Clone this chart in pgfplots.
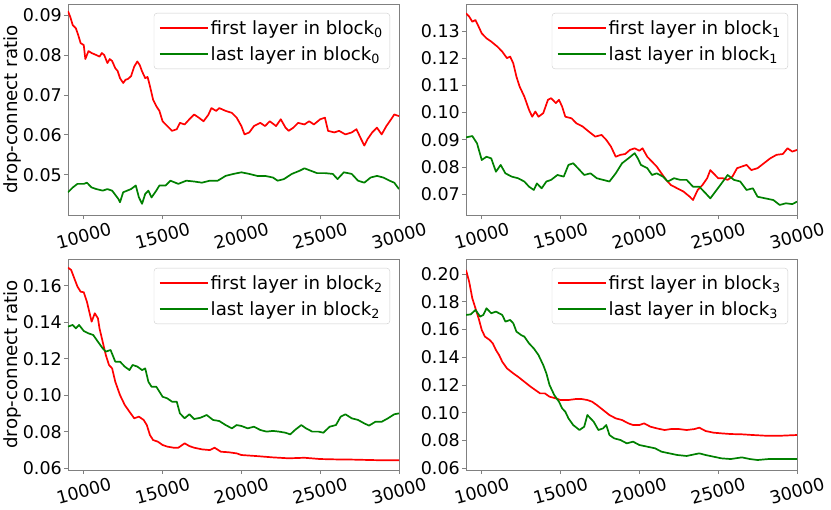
\documentclass[border=0pt]{standalone}
\usepackage{fontspec}
\setmainfont{DejaVu Sans}
\usepackage{pgfplots}
\pgfplotsset{compat=1.18}
\definecolor{mpred}{HTML}{FF0000}
\definecolor{mpgreen}{HTML}{008000}
\newcommand{\fst}{\fontsize{17.5}{21}\selectfont}
\newcommand{\fsl}{\fontsize{18.2}{22}\selectfont}
\pgfplotsset{
 legend image code/.code={\draw[#1] (0pt,0pt) -- (37pt,0pt); \path (0pt,0pt) -- (48pt,0pt);},
 cr/.style={color=mpred, line width=1.7pt, line join=round},
 cg/.style={color=mpgreen, line width=1.7pt, line join=round},
 panel/.style={
  scale only axis, width=331pt, height=211pt,
  xmin=9000, xmax=30000,
  xtick={10000,15000,20000,25000,30000},
  scaled ticks=false,
  axis line style={black!50, line width=0.8pt},
  tick style={black!50, line width=0.8pt},
  tick align=outside, major tick length=4pt,
  xtick pos=left, ytick pos=left,
  /pgf/number format/assume math mode=true,
  xticklabel style={/pgf/number format/1000 sep={}, rotate=15, anchor=center},
  xticklabel shift=17pt,
  yticklabel style={/pgf/number format/fixed, /pgf/number format/fixed zerofill, /pgf/number format/precision=2, inner sep=2pt},
  tick label style={font=\fst},
  label style={font=\fsl},
  ylabel style={at={(axis description cs:-0.168,0.5)}, anchor=center},
  legend style={at={(1,1)}, anchor=north east, xshift=-9pt, yshift=-9pt, draw=black!20, rounded corners=3pt, font=\fsl, inner xsep=5pt, inner ysep=5pt, row sep=7pt, nodes={inner sep=2pt}},
  legend cell align=left,
 },
}
\begin{document}
\begin{tikzpicture}
\path[use as bounding box] (0,0) rectangle (831pt,-510pt);
% ---------------- top left
\begin{axis}[panel, at={(68pt,-4pt)}, anchor=north west,
  ymin=0.0399, ymax=0.0928, ytick={0.05,0.06,0.07,0.08,0.09},
  ylabel={drop-connect ratio}]
\addplot[cr] coordinates {
(9000,0.0910)(9150,0.0895)(9300,0.0875)(9500,0.0867)(9650,0.0850)(9800,0.0830)(10000,0.0825)(10100,0.0790)(10300,0.0810)(10500,0.0805)(10800,0.0800)(11000,0.0796)(11150,0.0805)(11300,0.0800)(11500,0.0780)(11650,0.0790)(11800,0.0785)(12000,0.0767)(12150,0.0760)(12300,0.0742)(12500,0.0730)(12650,0.0738)(12800,0.0740)(13000,0.0747)(13200,0.0771)(13400,0.0784)(13550,0.0775)(13700,0.0759)(13900,0.0742)(14050,0.0745)(14200,0.0722)(14400,0.0688)(14600,0.0672)(14800,0.0660)(15000,0.0634)(15300,0.0622)(15600,0.0610)(15900,0.0614)(16100,0.0630)(16400,0.0626)(16700,0.0639)(17000,0.0651)(17300,0.0643)(17600,0.0634)(17900,0.0650)(18100,0.0667)(18400,0.0660)(18600,0.0667)(19000,0.0660)(19400,0.0655)(19700,0.0643)(20000,0.0622)(20200,0.0601)(20500,0.0606)(20800,0.0622)(21200,0.0630)(21500,0.0622)(21800,0.0634)(22200,0.0622)(22500,0.0639)(22800,0.0618)(23000,0.0610)(23300,0.0618)(23600,0.0630)(24000,0.0626)(24300,0.0634)(24600,0.0626)(25000,0.0639)(25300,0.0643)(25500,0.0610)(25900,0.0606)(26200,0.0610)(26600,0.0601)(27000,0.0606)(27300,0.0614)(27600,0.0589)(27800,0.0573)(28000,0.0589)(28300,0.0606)(28600,0.0618)(28900,0.0601)(29200,0.0622)(29500,0.0639)(29700,0.0651)(30000,0.0647)};
\addlegendentry{first layer in block\textsubscript{0}}
\addplot[cg] coordinates {
(9000,0.0456)(9300,0.0468)(9600,0.0477)(10000,0.0477)(10200,0.0480)(10500,0.0468)(10800,0.0464)(11200,0.0460)(11500,0.0464)(11800,0.0460)(12200,0.0439)(12300,0.0431)(12500,0.0456)(13000,0.0464)(13300,0.0473)(13500,0.0443)(13700,0.0427)(13900,0.0452)(14100,0.0460)(14300,0.0443)(14600,0.0460)(14800,0.0473)(15200,0.0473)(15500,0.0485)(16000,0.0477)(16500,0.0485)(17000,0.0483)(17500,0.0480)(18000,0.0485)(18500,0.0485)(19000,0.0497)(19500,0.0502)(20000,0.0506)(20500,0.0502)(21000,0.0497)(21500,0.0497)(22000,0.0493)(22300,0.0485)(22700,0.0489)(23200,0.0502)(23700,0.0510)(24000,0.0516)(24400,0.0510)(24800,0.0504)(25300,0.0504)(25800,0.0502)(26100,0.0489)(26500,0.0506)(27000,0.0502)(27400,0.0485)(27800,0.0480)(28200,0.0493)(28600,0.0497)(29000,0.0493)(29400,0.0485)(29700,0.0480)(30000,0.0464)};
\addlegendentry{last layer in block\textsubscript{0}}
\end{axis}
% ---------------- top right
\begin{axis}[panel, at={(466pt,-4pt)}, anchor=north west,
  ymin=0.0624, ymax=0.1399, ytick={0.07,0.08,0.09,0.10,0.11,0.12,0.13}]
\addplot[cr] coordinates {
(9000,0.1365)(9200,0.1353)(9400,0.1334)(9600,0.1340)(9800,0.1316)(10000,0.1291)(10300,0.1273)(10600,0.1261)(11000,0.1242)(11300,0.1224)(11600,0.1200)(11800,0.1206)(12000,0.1181)(12200,0.1132)(12400,0.1096)(12700,0.1059)(13000,0.1010)(13200,0.0985)(13400,0.1004)(13600,0.0985)(13900,0.0998)(14200,0.1047)(14400,0.1053)(14700,0.1035)(14900,0.1047)(15100,0.1022)(15300,0.0985)(15700,0.0979)(16000,0.0961)(16400,0.0949)(16800,0.0930)(17200,0.0912)(17600,0.0918)(17900,0.0900)(18200,0.0875)(18500,0.0838)(18800,0.0845)(19100,0.0848)(19400,0.0863)(19700,0.0869)(20000,0.0860)(20200,0.0869)(20500,0.0838)(20800,0.0820)(21100,0.0802)(21400,0.0777)(21700,0.0753)(22000,0.0734)(22400,0.0722)(22800,0.0710)(23200,0.0691)(23400,0.0679)(23700,0.0716)(24000,0.0734)(24300,0.0759)(24500,0.0789)(24800,0.0771)(25000,0.0759)(25300,0.0759)(25600,0.0753)(25900,0.0765)(26200,0.0796)(26500,0.0802)(26800,0.0808)(27100,0.0789)(27500,0.0796)(27900,0.0814)(28300,0.0832)(28700,0.0845)(29100,0.0848)(29400,0.0869)(29700,0.0857)(30000,0.0863)};
\addlegendentry{first layer in block\textsubscript{1}}
\addplot[cg] coordinates {
(9000,0.0909)(9400,0.0914)(9700,0.0887)(10000,0.0826)(10300,0.0838)(10600,0.0832)(10900,0.0783)(11200,0.0808)(11500,0.0777)(11900,0.0765)(12300,0.0759)(12700,0.0747)(13000,0.0728)(13300,0.0716)(13500,0.0740)(13800,0.0722)(14100,0.0747)(14400,0.0753)(14800,0.0771)(15200,0.0765)(15500,0.0808)(15800,0.0814)(16100,0.0796)(16500,0.0771)(16900,0.0777)(17300,0.0759)(17700,0.0753)(18100,0.0747)(18500,0.0777)(18900,0.0814)(19300,0.0832)(19700,0.0851)(19900,0.0832)(20100,0.0808)(20500,0.0796)(20800,0.0771)(21100,0.0777)(21500,0.0765)(21800,0.0747)(22200,0.0759)(22600,0.0753)(23000,0.0753)(23400,0.0728)(23800,0.0728)(24200,0.0704)(24500,0.0685)(24900,0.0716)(25300,0.0747)(25600,0.0771)(26000,0.0753)(26400,0.0747)(26800,0.0716)(27200,0.0722)(27500,0.0691)(28000,0.0685)(28500,0.0679)(28900,0.0661)(29300,0.0667)(29700,0.0664)(30000,0.0673)};
\addlegendentry{last layer in block\textsubscript{1}}
\end{axis}
% ---------------- bottom left
\begin{axis}[panel, at={(68pt,-259pt)}, anchor=north west,
  ymin=0.0591, ymax=0.1746, ytick={0.06,0.08,0.10,0.12,0.14,0.16},
  ylabel={drop-connect ratio}]
\addplot[cr] coordinates {
(9000,0.1699)(9200,0.1686)(9400,0.1640)(9600,0.1595)(9800,0.1567)(10000,0.1564)(10200,0.1512)(10500,0.1403)(10700,0.1449)(10900,0.1421)(11000,0.1366)(11200,0.1293)(11400,0.1220)(11600,0.1166)(11800,0.1147)(12000,0.1074)(12300,0.1001)(12600,0.0947)(12900,0.0910)(13200,0.0874)(13500,0.0883)(13800,0.0865)(14000,0.0837)(14200,0.0782)(14400,0.0755)(14700,0.0746)(15000,0.0728)(15300,0.0719)(15700,0.0713)(16000,0.0713)(16400,0.0737)(16700,0.0722)(17000,0.0713)(17500,0.0704)(18000,0.0700)(18300,0.0713)(18700,0.0691)(19200,0.0688)(19700,0.0682)(20000,0.0673)(21000,0.0667)(22000,0.0660)(23000,0.0655)(24000,0.0658)(25000,0.0651)(26000,0.0649)(27000,0.0648)(28000,0.0646)(29000,0.0644)(30000,0.0644)};
\addlegendentry{first layer in block\textsubscript{2}}
\addplot[cg] coordinates {
(9000,0.1376)(9300,0.1385)(9500,0.1366)(9700,0.1385)(10000,0.1352)(10300,0.1339)(10600,0.1330)(10900,0.1293)(11200,0.1257)(11400,0.1239)(11700,0.1248)(12000,0.1184)(12300,0.1184)(12600,0.1157)(12900,0.1138)(13100,0.1166)(13400,0.1157)(13700,0.1138)(13900,0.1147)(14100,0.1074)(14300,0.1047)(14600,0.1047)(14800,0.1020)(15000,0.0992)(15300,0.0983)(15600,0.0965)(15900,0.0965)(16100,0.0901)(16400,0.0874)(16700,0.0896)(17000,0.0870)(17400,0.0877)(17800,0.0892)(18200,0.0865)(18600,0.0859)(19000,0.0837)(19400,0.0819)(19700,0.0837)(20000,0.0832)(20400,0.0819)(20800,0.0828)(21200,0.0810)(21600,0.0801)(22000,0.0805)(22400,0.0801)(22800,0.0795)(23100,0.0786)(23400,0.0810)(23800,0.0837)(24100,0.0819)(24500,0.0801)(24900,0.0801)(25200,0.0795)(25600,0.0828)(26000,0.0837)(26300,0.0883)(26600,0.0896)(27000,0.0874)(27400,0.0865)(27800,0.0846)(28100,0.0834)(28500,0.0855)(28900,0.0855)(29300,0.0874)(29700,0.0896)(30000,0.0901)};
\addlegendentry{last layer in block\textsubscript{2}}
\end{axis}
% ---------------- bottom right
\begin{axis}[panel, at={(466pt,-259pt)}, anchor=north west,
  ymin=0.0588, ymax=0.2108, ytick={0.06,0.08,0.10,0.12,0.14,0.16,0.18,0.20}]
\addplot[cr] coordinates {
(9000,0.2029)(9200,0.1945)(9400,0.1825)(9600,0.1753)(9800,0.1681)(10000,0.1597)(10200,0.1549)(10500,0.1525)(10700,0.1500)(10900,0.1452)(11100,0.1416)(11300,0.1368)(11600,0.1320)(12000,0.1284)(12300,0.1260)(12700,0.1224)(13100,0.1188)(13400,0.1164)(13700,0.1140)(14000,0.1140)(14300,0.1116)(14700,0.1104)(15000,0.1092)(15500,0.1092)(16000,0.1100)(16300,0.1100)(16700,0.1092)(17000,0.1080)(17300,0.1056)(17700,0.1020)(18100,0.0984)(18500,0.0960)(18900,0.0948)(19300,0.0924)(19600,0.0912)(20000,0.0912)(20300,0.0924)(20700,0.0900)(21100,0.0888)(21600,0.0876)(22000,0.0883)(22500,0.0883)(23000,0.0876)(23500,0.0883)(23800,0.0893)(24200,0.0869)(24700,0.0857)(25200,0.0852)(25800,0.0847)(26500,0.0845)(27200,0.0840)(28000,0.0835)(29000,0.0835)(30000,0.0840)};
\addlegendentry{first layer in block\textsubscript{3}}
\addplot[cg] coordinates {
(9000,0.1705)(9300,0.1709)(9600,0.1741)(9900,0.1693)(10100,0.1705)(10300,0.1753)(10600,0.1717)(10900,0.1729)(11100,0.1717)(11300,0.1705)(11500,0.1657)(11800,0.1669)(12000,0.1645)(12200,0.1585)(12500,0.1560)(12700,0.1549)(13000,0.1500)(13300,0.1464)(13600,0.1416)(13900,0.1344)(14100,0.1284)(14300,0.1200)(14600,0.1128)(14900,0.1080)(15100,0.1032)(15300,0.1008)(15500,0.0960)(15800,0.0912)(16200,0.0876)(16500,0.0900)(16700,0.0984)(16900,0.0960)(17100,0.0936)(17400,0.0876)(17700,0.0888)(17900,0.0912)(18100,0.0840)(18400,0.0816)(18800,0.0804)(19200,0.0780)(19600,0.0792)(20000,0.0768)(20500,0.0756)(21000,0.0744)(21400,0.0720)(21900,0.0708)(22400,0.0696)(23000,0.0689)(23500,0.0701)(23800,0.0708)(24200,0.0696)(24700,0.0684)(25200,0.0672)(25800,0.0667)(26500,0.0679)(27000,0.0667)(27500,0.0660)(28200,0.0667)(29000,0.0667)(30000,0.0667)};
\addlegendentry{last layer in block\textsubscript{3}}
\end{axis}
\end{tikzpicture}
\end{document}
